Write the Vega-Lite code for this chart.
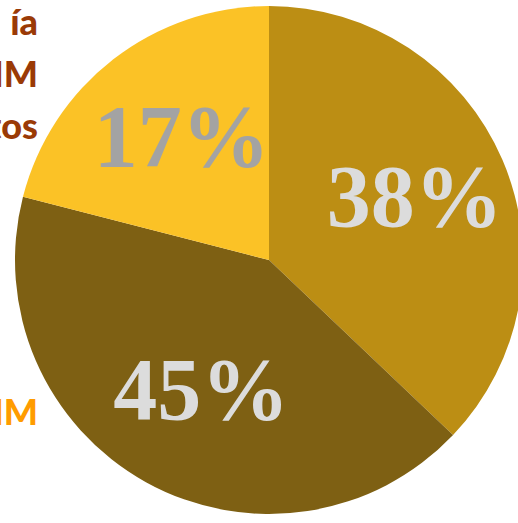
{
  "$schema": "https://vega.github.io/schema/vega-lite/v6.json",
  "autosize": "none",
  "padding": 0,
  "width": 538,
  "height": 520,
  "background": "white",
  "view": {"stroke": null},
  "datasets": {
    "slices": [
      {"group": "A", "share": 37.1, "label": "38%", "order": 1},
      {"group": "B", "share": 41.9, "label": "45%", "order": 2},
      {"group": "C", "share": 21.0, "label": "17%", "order": 3}
    ],
    "notes": [
      {"line": 1, "text": "ía", "kind": "title"},
      {"line": 2, "text": "MM", "kind": "title"},
      {"line": 3, "text": "tos", "kind": "title"},
      {"line": 4, "text": "MM", "kind": "accent"}
    ]
  },
  "layer": [
    {
      "data": {"name": "slices"},
      "mark": {"type": "arc", "outerRadius": 254, "stroke": null},
      "encoding": {
        "theta": {"field": "share", "type": "quantitative", "stack": true},
        "order": {"field": "order", "type": "quantitative"},
        "color": {
          "field": "group",
          "type": "nominal",
          "legend": null,
          "scale": {"domain": ["A", "B", "C"], "range": ["#BC8E14", "#7E6013", "#FBC226"]}
        }
      }
    },
    {
      "data": {"name": "slices"},
      "mark": {
        "type": "text",
        "radius": 152,
        "font": "Liberation Serif",
        "fontWeight": "bold",
        "fontSize": 88,
        "baseline": "middle",
        "align": "center",
        "dx": 6
      },
      "encoding": {
        "theta": {"field": "share", "type": "quantitative", "stack": true},
        "order": {"field": "order", "type": "quantitative"},
        "text": {"field": "label"},
        "color": {
          "field": "group",
          "type": "nominal",
          "legend": null,
          "scale": {"domain": ["A", "B", "C"], "range": ["#DCDCDC", "#DCDCDC", "#A3A3A3"]}
        }
      }
    },
    {
      "data": {"name": "notes"},
      "mark": {
        "type": "text",
        "align": "right",
        "baseline": "middle",
        "font": "Lato",
        "fontWeight": 900,
        "fontSize": 36,
        "x": 38
      },
      "encoding": {
        "y": {
          "field": "line",
          "type": "quantitative",
          "axis": null,
          "scale": {"domain": [1, 3, 4], "range": [24, 128, 414], "zero": false, "nice": false}
        },
        "text": {"field": "text"},
        "color": {
          "field": "kind",
          "type": "nominal",
          "legend": null,
          "scale": {"domain": ["title", "accent"], "range": ["#9A3A06", "#FF9C00"]}
        }
      }
    }
  ],
  "resolve": {"scale": {"color": "independent"}}
}
